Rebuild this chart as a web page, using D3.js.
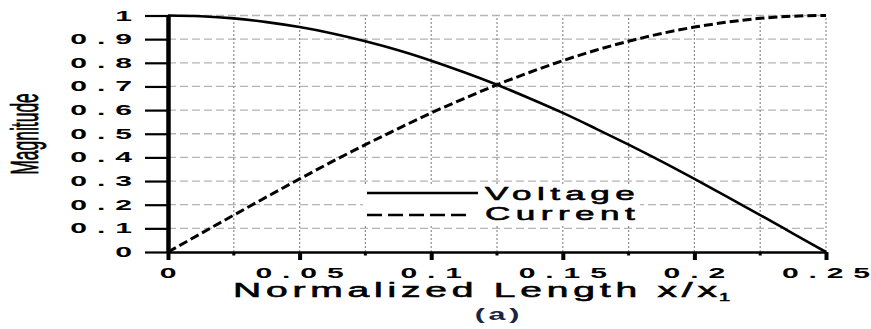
<!DOCTYPE html>
<html>
<head>
<meta charset="utf-8">
<script src="https://cdn.jsdelivr.net/npm/d3@7"></script>
<style>
    body { margin: 0; background: #fff; }
    svg { display: block; }
    text { font-family: "Liberation Sans", Arial, sans-serif; fill: #000; }
</style>
</head>
<body>
<div id="chart"></div>
<script>

// values
const xs        = [0, 0.0125, 0.025, 0.0375, 0.05, 0.0625, 0.075, 0.0875, 0.1, 0.1125, 0.125,
                   0.1375, 0.15, 0.1625, 0.175, 0.1875, 0.2, 0.2125, 0.225, 0.2375, 0.25];
const voltage   = [1, 0.997, 0.988, 0.972, 0.951, 0.924, 0.891, 0.853, 0.809, 0.760, 0.707,
                   0.649, 0.588, 0.522, 0.454, 0.383, 0.309, 0.233, 0.156, 0.078, 0];
const current   = [0, 0.078, 0.156, 0.233, 0.309, 0.383, 0.454, 0.522, 0.588, 0.649, 0.707,
                   0.760, 0.809, 0.853, 0.891, 0.924, 0.951, 0.972, 0.988, 0.997, 1];
const xTicks    = [0, 0.05, 0.1, 0.15, 0.2, 0.25];
const xTickText = ["0", "0.05", "0.1", "0.15", "0.2", "0.25"];
const xMinor    = [0.025, 0.075, 0.125, 0.175, 0.225];
const yTicks    = [0, 0.1, 0.2, 0.3, 0.4, 0.5, 0.6, 0.7, 0.8, 0.9, 1];
const yTickText = ["0", "0.1", "0.2", "0.3", "0.4", "0.5", "0.6", "0.7", "0.8", "0.9", "1"];
const seriesNames = ["Voltage", "Current"];

const W = 871, H = 329;

const svg = d3.select("#chart").append("svg")
    .attr("width", W)
    .attr("height", H);

const x = d3.scaleLinear().domain([0, 0.25]).range([168, 826]);
const y = d3.scaleLinear().domain([0, 1]).range([252, 15.5]);

// the figure is stretched sideways, so text gets a horizontal scale
// (last char has no letter-spacing so anchors stay true)
function wideText(g, px, py, str, o) {
    let t = g.append("text")
        .attr("transform", `translate(${px},${py}) scale(${o.sx},1)`)
        .attr("text-anchor", o.anchor || "start")
        .style("font-size", o.size + "px")
        .style("font-weight", o.weight || "normal")
        .style("stroke", o.stroke ? "#000" : "none")
        .style("stroke-width", o.stroke || 0);
    t.append("tspan").style("letter-spacing", (o.ls || 0) + "px").text(str.slice(0, -1));
    t.append("tspan").style("letter-spacing", o.tail || "0px").text(str.slice(-1));
    return t;
}

// grid
svg.append("g").selectAll("line")
    .data(yTicks.slice(1))
    .join("line")
    .attr("x1", x(0)).attr("x2", x(0.25))
    .attr("y1", d => y(d)).attr("y2", d => y(d))
    .attr("stroke", "#b5b5b5")
    .attr("stroke-width", 1.3)
    .attr("stroke-dasharray", "8,4");

svg.append("g").selectAll("line")
    .data(xMinor.concat(xTicks.slice(1)))
    .join("line")
    .attr("x1", d => x(d)).attr("x2", d => x(d))
    .attr("y1", y(0)).attr("y2", y(1))
    .attr("stroke", "#8c8c8c")
    .attr("stroke-width", 1.2)
    .attr("stroke-dasharray", "2,2");

// legend background hides the grid
svg.append("rect")
    .attr("x", 363).attr("y", 184)
    .attr("width", 277).attr("height", 40)
    .attr("fill", "#fff");

// curves
const line = d3.line()
    .x((d, i) => x(xs[i]))
    .y(d => y(d))
    .curve(d3.curveMonotoneX);

svg.append("path")
    .attr("d", line(voltage))
    .attr("fill", "none")
    .attr("stroke", "#000")
    .attr("stroke-width", 2.6);

svg.append("path")
    .attr("d", line(current))
    .attr("fill", "none")
    .attr("stroke", "#000")
    .attr("stroke-width", 3)
    .attr("stroke-dasharray", "9,4");

// axes
const yAxis = svg.append("g")
    .attr("transform", `translate(${x(0)},0)`)
    .call(d3.axisLeft(y).tickValues(yTicks).tickSize(23).tickSizeOuter(0).tickFormat(""));
yAxis.select(".domain").attr("stroke-width", 4.5);
yAxis.selectAll(".tick line").attr("stroke-width", 2.2);

const xAxis = svg.append("g")
    .attr("transform", `translate(0,${y(0)})`)
    .call(d3.axisBottom(x).tickValues(xTicks).tickSize(8).tickSizeOuter(0).tickFormat(""));
xAxis.select(".domain").attr("stroke-width", 2.6);
xAxis.selectAll(".tick line").attr("stroke-width", 4);

svg.append("g").selectAll("line")
    .data(xMinor)
    .join("line")
    .attr("x1", d => x(d)).attr("x2", d => x(d))
    .attr("y1", y(0)).attr("y2", y(0) + 3.5)
    .attr("stroke", "#000")
    .attr("stroke-width", 3);

// tick labels
const lab = svg.append("g");
yTicks.forEach((d, i) => {
    wideText(lab, 132, y(d) + 5, yTickText[i], {sx: 2.15, size: 14, ls: 4.6, anchor: "end", weight: "bold"});
});
xTicks.forEach((d, i) => {
    wideText(lab, x(d), 278, xTickText[i], {sx: 2.15, size: 14, ls: 4.6, anchor: "middle", weight: "bold"});
});

// axis titles
svg.append("text")
    .attr("transform", "translate(38,134) scale(2.2,1) rotate(-90)")
    .attr("text-anchor", "middle")
    .style("font-size", "17.5px")
    .style("stroke", "#000")
    .style("stroke-width", 0.35)
    .text("Magnitude");

const xt = wideText(svg, 233, 297, "Normalized Length x/x", {sx: 2.0, size: 19.5, ls: 2.4, stroke: 0.55});
xt.append("tspan")
    .attr("dy", 4)
    .attr("dx", 1)
    .style("font-size", "10px")
    .style("letter-spacing", "0px")
    .text("1");

// legend
svg.append("line")
    .attr("x1", 367).attr("x2", 478)
    .attr("y1", 193).attr("y2", 193)
    .attr("stroke", "#000").attr("stroke-width", 2.4);
svg.append("line")
    .attr("x1", 367).attr("x2", 471)
    .attr("y1", 215).attr("y2", 215)
    .attr("stroke", "#000").attr("stroke-width", 2.4)
    .attr("stroke-dasharray", "15,6");
wideText(svg, 485, 200, seriesNames[0], {sx: 1.95, size: 18, ls: 2.8, stroke: 0.55});
wideText(svg, 485, 220, seriesNames[1], {sx: 1.95, size: 18, ls: 2.8, stroke: 0.55});

// caption
wideText(svg, 497, 320, "(a)", {sx: 1.9, size: 16, ls: 2, anchor: "middle", weight: "bold"})
    .style("fill", "#1c2440");

</script>
</body>
</html>
